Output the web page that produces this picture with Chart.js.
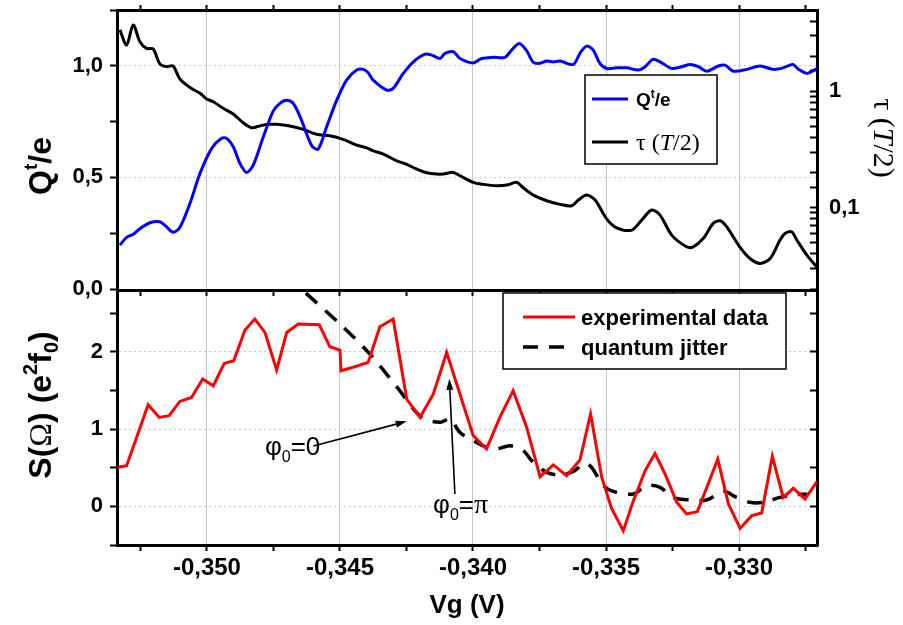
<!DOCTYPE html>
<html>
<head>
<meta charset="utf-8">
<script src="https://cdn.jsdelivr.net/npm/chart.js@4.4.0/dist/chart.umd.min.js"></script>
<style>
html, body { margin: 0; padding: 0; background: #fff; }
#wrap { position: relative; width: 903px; height: 625px; }
#wrap canvas { position: absolute; left: 0; top: 0; }
</style>
</head>
<body>
<div id="wrap">
<canvas id="topChart" width="903" height="625"></canvas>
<canvas id="bottomChart" width="903" height="625"></canvas>
</div>
<script>
// ---- data ----
var vgQ = [-0.35327,-0.35302,-0.35277,-0.35252,-0.35214,-0.35177,-0.35152,-0.35127,-0.35102,-0.35064,
    -0.35026,-0.34982,-0.34945,-0.34926,-0.34901,-0.34876,-0.34851,-0.34826,-0.34788,-0.34751,
    -0.34726,-0.34700,-0.34676,-0.34650,-0.34606,-0.34582,-0.34550,-0.34512,-0.34475,-0.34437,
    -0.34412,-0.34394,-0.34375,-0.34324,-0.34300,-0.34262,-0.34224,-0.34180,-0.34155,-0.34124,
    -0.34105,-0.34074,-0.34049,-0.33999,-0.33967,-0.33924,-0.33880,-0.33855,-0.33826,-0.33798,
    -0.33773,-0.33748,-0.33723,-0.33698,-0.33673,-0.33623,-0.33598,-0.33573,-0.33548,-0.33523,
    -0.33497,-0.33460,-0.33422,-0.33379,-0.33353,-0.33324,-0.33297,-0.33253,-0.33215,-0.33184,
    -0.33153,-0.33121,-0.33078,-0.33053,-0.33021,-0.32971,-0.32921,-0.32871,-0.32834,-0.32798,
    -0.32777,-0.32745,-0.32707];
var qVals = [0.197,0.231,0.245,0.270,0.297,0.301,0.279,0.254,0.276,0.383,
    0.518,0.630,0.675,0.675,0.637,0.563,0.522,0.555,0.682,0.797,
    0.832,0.846,0.832,0.772,0.642,0.627,0.727,0.846,0.936,0.981,
    0.984,0.969,0.936,0.891,0.899,0.966,1.018,1.052,1.048,1.033,
    1.056,1.063,1.033,1.013,1.033,1.038,1.038,1.070,1.100,1.067,
    1.015,1.011,1.021,1.017,1.021,1.006,1.056,1.088,1.070,1.011,
    0.988,0.991,0.991,0.981,0.996,1.029,1.018,0.988,0.996,1.006,
    0.996,0.976,0.999,1.003,0.976,0.984,0.999,0.984,0.991,1.006,
    0.985,0.966,0.988];

var vgTau = [-0.35327,-0.35302,-0.35277,-0.35252,-0.35227,-0.35202,-0.35177,-0.35152,-0.35127,-0.35102,
    -0.35064,-0.35026,-0.35001,-0.34976,-0.34939,-0.34901,-0.34864,-0.34832,-0.34813,-0.34776,
    -0.34738,-0.34688,-0.34638,-0.34588,-0.34538,-0.34488,-0.34437,-0.34400,-0.34375,-0.34337,
    -0.34287,-0.34249,-0.34212,-0.34174,-0.34136,-0.34112,-0.34074,-0.34049,-0.33999,-0.33961,
    -0.33911,-0.33873,-0.33836,-0.33811,-0.33773,-0.33723,-0.33673,-0.33629,-0.33604,-0.33573,
    -0.33541,-0.33497,-0.33460,-0.33403,-0.33366,-0.33328,-0.33297,-0.33253,-0.33197,-0.33172,
    -0.33134,-0.33097,-0.33071,-0.33046,-0.32996,-0.32959,-0.32921,-0.32883,-0.32846,-0.32827,
    -0.32802,-0.32783,-0.32745,-0.32708];
var tauVals = [3.37,2.50,3.72,2.67,2.34,2.31,1.72,1.63,1.65,1.28,
    1.08,0.961,0.859,0.814,0.714,0.638,0.537,0.486,0.496,0.520,
    0.520,0.503,0.471,0.427,0.415,0.387,0.345,0.327,0.308,0.289,
    0.253,0.236,0.215,0.1996,0.1945,0.1945,0.201,0.188,0.165,0.1586,
    0.1543,0.1564,0.165,0.1483,0.1283,0.1147,0.1068,0.1038,0.1162,0.1283,
    0.1162,0.0798,0.0672,0.0642,0.0782,0.0954,0.0864,0.0581,0.0461,0.0461,
    0.0545,0.0733,0.0772,0.0685,0.0456,0.0366,0.0332,0.0366,0.0527,0.0601,
    0.0621,0.0527,0.0391,0.0310];

var vgExp = [-0.35335,-0.35302,-0.35264,-0.35221,-0.35179,-0.35142,-0.35102,-0.35058,-0.35016,-0.34976,
    -0.34935,-0.34899,-0.34857,-0.34820,-0.34782,-0.34738,-0.34700,-0.34657,-0.34578,-0.34538,
    -0.34500,-0.34496,-0.34444,-0.34394,-0.34350,-0.34300,-0.34249,-0.34199,-0.34149,-0.34099,
    -0.33999,-0.33949,-0.33899,-0.33849,-0.33798,-0.33748,-0.33698,-0.33648,-0.33598,-0.33558,
    -0.33516,-0.33479,-0.33435,-0.33397,-0.33353,-0.33316,-0.33278,-0.33234,-0.33197,-0.33157,
    -0.33121,-0.33080,-0.33040,-0.32996,-0.32952,-0.32915,-0.32875,-0.32834,-0.32796,-0.32752,
    -0.32707];
var sExp = [0.505,0.527,0.893,1.316,1.151,1.173,1.358,1.410,1.648,1.561,
    1.850,1.885,2.282,2.424,2.251,1.765,2.251,2.360,2.351,2.066,
    2.023,1.756,1.807,1.863,2.325,2.424,1.389,1.151,1.454,1.992,
    0.915,0.743,1.151,1.497,1.022,0.384,0.536,0.397,0.600,1.195,
    0.375,-0.026,-0.314,0.074,0.462,0.686,0.419,0.052,-0.098,-0.069,
    0.246,0.613,0.031,-0.285,-0.120,-0.085,0.647,0.116,0.233,0.096,
    0.320];

var vgJit = [-0.34628,-0.34500,-0.34387,-0.34287,-0.34193,-0.34124,-0.34086,-0.34049,-0.33999,-0.33949,
    -0.33911,-0.33861,-0.33811,-0.33779,-0.33723,-0.33673,-0.33623,-0.33579,-0.33554,-0.33510,
    -0.33460,-0.33397,-0.33347,-0.33297,-0.33247,-0.33184,-0.33121,-0.33059,-0.33009,-0.32959,
    -0.32909,-0.32846,-0.32796,-0.32745];
var sJit = [2.76,2.36,1.97,1.549,1.151,1.087,1.131,0.957,0.850,0.763,
    0.743,0.785,0.721,0.591,0.440,0.406,0.453,0.556,0.505,0.268,
    0.181,0.160,0.268,0.246,0.116,0.083,0.083,0.194,0.116,0.052,
    0.052,0.116,0.147,0.160];

var vgRange = [-0.35338, -0.32707];
var qRange = [0, 1.25];
var tauRange = [0.02, 5];
var sRange = [-0.5, 2.8];

var SANS = "'Liberation Sans', Arial, sans-serif";
var SERIF = "'Liberation Serif', 'Times New Roman', serif";
var CLEAR = 'rgba(0,0,0,0)';
var GRID = '#c8c8c8';

Chart.defaults.font.family = SANS;
Chart.defaults.color = '#000';

function pairs(xs, ys) {
    return xs.map(function (x, i) { return {x: x, y: ys[i]}; });
}

function isMultiple(v, step) {
    var r = v / step;
    return Math.abs(r - Math.round(r)) < 1e-6;
}

function commaFixed(v, digits) {
    return v.toFixed(digits).replace('.', ',');
}

// fixed axis size, no extra label overhang so the plot areas line up
function fixWidth(w) {
    return function (s) {
        s.width = w;
        s.paddingTop = 0;
        s.paddingBottom = 0;
    };
}

function fixHeight(h) {
    return function (s) {
        s.height = h;
        s.paddingLeft = 0;
        s.paddingRight = 0;
    };
}

// text made of runs (for super / subscripts), centred along the baseline
function drawRuns(ctx, runs, bx, by, angle) {
    ctx.save();
    ctx.translate(bx, by);
    ctx.rotate(angle);
    ctx.textAlign = 'left';
    ctx.textBaseline = 'alphabetic';
    var total = 0;
    runs.forEach(function (r) { ctx.font = r.font; total += ctx.measureText(r.text).width; });
    var x = -total / 2;
    runs.forEach(function (r) {
        ctx.font = r.font;
        ctx.fillStyle = '#000';
        ctx.fillText(r.text, x, r.dy || 0);
        x += ctx.measureText(r.text).width;
    });
    ctx.restore();
}

function drawRunsLeft(ctx, runs, x, y) {
    ctx.save();
    ctx.textAlign = 'left';
    ctx.textBaseline = 'alphabetic';
    runs.forEach(function (r) {
        ctx.font = r.font;
        ctx.fillStyle = '#000';
        ctx.fillText(r.text, x, y + (r.dy || 0));
        x += ctx.measureText(r.text).width;
    });
    ctx.restore();
}

function drawLegendBox(ctx, x, y, w, h) {
    ctx.save();
    ctx.fillStyle = '#fff';
    ctx.fillRect(x, y, w, h);
    ctx.strokeStyle = '#000';
    ctx.lineWidth = 1.5;
    ctx.strokeRect(x, y, w, h);
    ctx.restore();
}

function drawLegendLine(ctx, ds, x1, x2, y) {
    ctx.save();
    ctx.strokeStyle = ds.borderColor;
    ctx.lineWidth = ds.borderWidth;
    ctx.setLineDash(ds.borderDash || []);
    ctx.beginPath();
    ctx.moveTo(x1, y);
    ctx.lineTo(x2, y);
    ctx.stroke();
    ctx.restore();
}

function drawArrow(ctx, x1, y1, x2, y2) {
    var ang = Math.atan2(y2 - y1, x2 - x1), len = 11, half = 3.5;
    var c = Math.cos(ang), s = Math.sin(ang);
    ctx.save();
    ctx.strokeStyle = '#000';
    ctx.fillStyle = '#000';
    ctx.lineWidth = 1.6;
    ctx.beginPath();
    ctx.moveTo(x1, y1);
    ctx.lineTo(x2 - c * len * 0.8, y2 - s * len * 0.8);
    ctx.stroke();
    ctx.beginPath();
    ctx.moveTo(x2, y2);
    ctx.lineTo(x2 - len * c + half * s, y2 - len * s - half * c);
    ctx.lineTo(x2 - len * c - half * s, y2 - len * s + half * c);
    ctx.closePath();
    ctx.fill();
    ctx.restore();
}

function vgGridColor(c) {
    return c.tick && isMultiple(c.tick.value, 0.005) ? GRID : CLEAR;
}

function vgAxis(position, height, tickLength, showLabels) {
    return {
        type: 'linear',
        position: position,
        min: vgRange[0],
        max: vgRange[1],
        afterFit: fixHeight(height),
        ticks: {
            stepSize: 0.0025,
            includeBounds: false,
            autoSkip: false,
            maxRotation: 0,
            display: showLabels,
            padding: 3,
            font: {size: 24, weight: 'bold'},
            callback: function (v) { return isMultiple(v, 0.005) ? commaFixed(v, 3) : ''; }
        },
        grid: {
            color: vgGridColor,
            lineWidth: 1,
            tickLength: tickLength,
            tickWidth: 2,
            tickColor: '#000'
        },
        border: {color: '#000', width: 3}
    };
}

// ---- top panel: Qt/e and tau ----
var topDecor = {
    id: 'topDecor',
    afterDraw: function (chart) {
        var ctx = chart.ctx;
        var b = SANS;
        drawRuns(ctx, [
            {text: 'Q', font: 'bold 32px ' + b},
            {text: 't', font: 'bold 19px ' + b, dy: -14},
            {text: '/e', font: 'bold 32px ' + b}
        ], 51, 166, -Math.PI / 2);
        drawRuns(ctx, [
            {text: '\u03c4 (', font: '30px ' + SERIF},
            {text: 'T', font: 'italic 30px ' + SERIF},
            {text: '/2)', font: '30px ' + SERIF}
        ], 874, 138, Math.PI / 2);

        var dsQ = chart.data.datasets[0], dsT = chart.data.datasets[1];
        drawLegendBox(ctx, 585, 75, 132, 89);
        drawLegendLine(ctx, dsQ, 592, 628, 99);
        drawRunsLeft(ctx, [
            {text: 'Q', font: 'bold 19px ' + b},
            {text: 't', font: 'bold 12px ' + b, dy: -8},
            {text: '/e', font: 'bold 19px ' + b}
        ], 636, 106);
        drawLegendLine(ctx, dsT, 592, 628, 142);
        drawRunsLeft(ctx, [
            {text: '\u03c4 (', font: '24px ' + SERIF},
            {text: 'T', font: 'italic 24px ' + SERIF},
            {text: '/2)', font: '24px ' + SERIF}
        ], 636, 150);
    }
};

new Chart(document.getElementById('topChart'), {
    type: 'line',
    data: {
        datasets: [{
            label: 'Qt/e',
            data: pairs(vgQ, qVals),
            yAxisID: 'yQ',
            borderColor: '#0000ff',
            borderWidth: 3,
            pointRadius: 0,
            tension: 0.3,
            fill: false
        }, {
            label: '\u03c4 (T/2)',
            data: pairs(vgTau, tauVals),
            yAxisID: 'yT',
            borderColor: '#000000',
            borderWidth: 3,
            pointRadius: 0,
            tension: 0.3,
            fill: false
        }]
    },
    options: {
        responsive: false,
        animation: false,
        layout: {padding: {top: 10, bottom: 336, left: 0, right: 0}},
        plugins: {legend: {display: false}, tooltip: {enabled: false}},
        scales: {
            x: vgAxis('top', 0, 5, false),
            yQ: {
                type: 'linear',
                position: 'left',
                min: qRange[0],
                max: qRange[1],
                afterFit: fixWidth(117),
                ticks: {
                    stepSize: 0.25,
                    padding: 7,
                    font: {size: 22, weight: 'bold'},
                    callback: function (v) { return isMultiple(v, 0.5) ? commaFixed(v, 1) : ''; }
                },
                grid: {
                    color: function (c) {
                        var v = c.tick ? c.tick.value : 0;
                        return v > 0 && v < qRange[1] && isMultiple(v, 0.5) ? GRID : CLEAR;
                    },
                    tickLength: 7,
                    tickWidth: 2,
                    tickColor: '#000'
                },
                border: {color: '#000', width: 3, dash: [2, 3]}
            },
            yT: {
                type: 'logarithmic',
                position: 'right',
                min: tauRange[0],
                max: tauRange[1],
                afterFit: fixWidth(86),
                ticks: {
                    autoSkip: false,
                    padding: 19,
                    font: {size: 22, weight: 'bold'},
                    callback: function (v) {
                        if (Math.abs(v - 1) < 1e-9) { return '1'; }
                        if (Math.abs(v - 0.1) < 1e-9) { return '0,1'; }
                        return '';
                    }
                },
                grid: {drawOnChartArea: false, tickLength: -7, tickWidth: 2, tickColor: '#000'},
                border: {color: '#000', width: 3}
            }
        }
    },
    plugins: [topDecor]
});

// ---- bottom panel: S(Omega) ----
var bottomDecor = {
    id: 'bottomDecor',
    afterDraw: function (chart) {
        var ctx = chart.ctx;
        var xs = chart.scales.x, ys = chart.scales.yS;
        var b = SANS;
        drawRuns(ctx, [
            {text: 'S(', font: 'bold 32px ' + b},
            {text: '\u03a9', font: '32px ' + SERIF},
            {text: ') (e', font: 'bold 32px ' + b},
            {text: '2', font: 'bold 20px ' + b, dy: -14},
            {text: 'f', font: 'bold 32px ' + b},
            {text: '0', font: 'bold 20px ' + b, dy: 7},
            {text: ')', font: 'bold 32px ' + b}
        ], 51, 405, -Math.PI / 2);
        drawRuns(ctx, [{text: 'Vg (V)', font: 'bold 26px ' + b}], 467, 613, 0);

        var dsE = chart.data.datasets[0], dsJ = chart.data.datasets[1];
        drawLegendBox(ctx, 503, 293, 283, 76);
        drawLegendLine(ctx, dsE, 523, 575, 317);
        drawRunsLeft(ctx, [{text: 'experimental data', font: 'bold 22px ' + b}], 581, 325);
        drawLegendLine(ctx, dsJ, 523, 568, 347);
        drawRunsLeft(ctx, [{text: 'quantum jitter', font: 'bold 22px ' + b}], 581, 355);

        // annotations, placed in data coordinates
        drawArrow(ctx, xs.getPixelForValue(-0.34600), ys.getPixelForValue(0.78),
            xs.getPixelForValue(-0.34249), ys.getPixelForValue(1.10));
        drawRunsLeft(ctx, [
            {text: '\u03c6', font: '26px ' + b},
            {text: '0', font: '16px ' + b, dy: 7},
            {text: '=0', font: '26px ' + b}
        ], xs.getPixelForValue(-0.34782), ys.getPixelForValue(0.66));
        drawArrow(ctx, xs.getPixelForValue(-0.34068), ys.getPixelForValue(0.16),
            xs.getPixelForValue(-0.34089), ys.getPixelForValue(1.65));
        drawRunsLeft(ctx, [
            {text: '\u03c6', font: '26px ' + b},
            {text: '0', font: '16px ' + b, dy: 7},
            {text: '=', font: '26px ' + b},
            {text: '\u03c0', font: '28px ' + SERIF}
        ], xs.getPixelForValue(-0.34150), ys.getPixelForValue(-0.09));
    }
};

new Chart(document.getElementById('bottomChart'), {
    type: 'line',
    data: {
        datasets: [{
            label: 'experimental data',
            data: pairs(vgExp, sExp),
            yAxisID: 'yS',
            borderColor: '#ff0000',
            borderWidth: 3,
            pointRadius: 0,
            tension: 0,
            fill: false
        }, {
            label: 'quantum jitter',
            data: pairs(vgJit, sJit),
            yAxisID: 'yS',
            borderColor: '#000000',
            borderWidth: 3.5,
            borderDash: [15, 11],
            pointRadius: 0,
            tension: 0.3,
            fill: false
        }]
    },
    options: {
        responsive: false,
        animation: false,
        layout: {padding: {top: 290, bottom: 0, left: 0, right: 0}},
        plugins: {legend: {display: false}, tooltip: {enabled: false}},
        scales: {
            x: vgAxis('bottom', 80, 6, true),
            x2: (function () {
                var a = vgAxis('top', 0, -6, false);
                a.grid.drawOnChartArea = false;
                return a;
            })(),
            yS: {
                type: 'linear',
                position: 'left',
                min: sRange[0],
                max: sRange[1],
                afterFit: fixWidth(117),
                ticks: {
                    stepSize: 0.5,
                    includeBounds: false,
                    padding: 7,
                    font: {size: 22, weight: 'bold'},
                    callback: function (v) { return isMultiple(v, 1) ? String(Math.round(v)) : ''; }
                },
                grid: {
                    color: function (c) {
                        var v = c.tick ? c.tick.value : 0.5;
                        return isMultiple(v, 1) ? GRID : CLEAR;
                    },
                    tickLength: 7,
                    tickWidth: 2,
                    tickColor: '#000'
                },
                border: {color: '#000', width: 3, dash: [2, 3]}
            },
            yS2: {
                type: 'linear',
                position: 'right',
                min: sRange[0],
                max: sRange[1],
                afterFit: fixWidth(86),
                ticks: {stepSize: 0.5, includeBounds: false, display: false},
                grid: {drawOnChartArea: false, tickLength: -7, tickWidth: 2, tickColor: '#000'},
                border: {color: '#000', width: 3}
            }
        }
    },
    plugins: [bottomDecor]
});
</script>
</body>
</html>
